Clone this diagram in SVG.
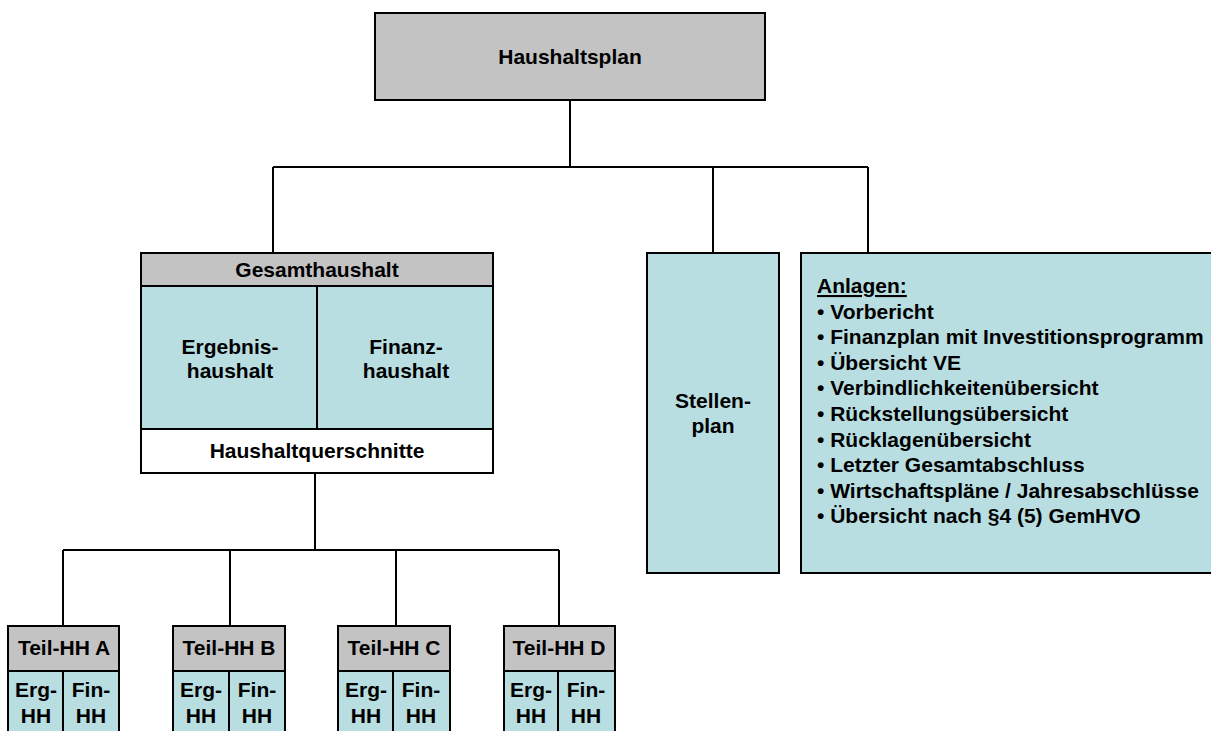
<svg xmlns="http://www.w3.org/2000/svg" width="1211" height="731" viewBox="0 0 1211 731">
<style>
text{font-family:"Liberation Sans",Arial,sans-serif;font-weight:bold;font-size:21px;fill:#000;}
.c{text-anchor:middle;}
.grey{fill:#c3c3c3;stroke:#000;stroke-width:2;}
.blue{fill:#b8dee2;stroke:#000;stroke-width:2;}
.white{fill:#fff;stroke:#000;stroke-width:2;}
.ln{stroke:#000;stroke-width:2;fill:none;}
.sm{font-size:20px;}
</style>
<rect width="1211" height="731" fill="#fff"/>
<g id="connectors">
<path class="ln" d="M570 100V167M273 167H868M273 167V253M713 167V253M868 167V253"/>
<path class="ln" d="M315 473V550M63 550H559M63 550V626M230 550V626M396 550V626M559 550V626"/>
</g>
<g id="haushaltsplan">
<rect class="grey" x="375" y="13" width="390" height="87"/>
<text class="c" x="570" y="64">Haushaltsplan</text>
</g>
<g id="gesamthaushalt">
<rect class="grey" x="141" y="253" width="352" height="33"/>
<rect class="blue" x="141" y="286" width="176" height="143"/>
<rect class="blue" x="317" y="286" width="176" height="143"/>
<rect class="white" x="141" y="429" width="352" height="44"/>
<text class="c" x="317" y="277">Gesamthaushalt</text>
<text class="c" x="230" y="354">Ergebnis-</text>
<text class="c" x="230" y="378">haushalt</text>
<text class="c" x="406" y="354">Finanz-</text>
<text class="c" x="406" y="378">haushalt</text>
<text class="c" x="317" y="458">Haushaltquerschnitte</text>
</g>
<g id="stellenplan">
<rect class="blue" x="647" y="253" width="132" height="320"/>
<text class="c" x="713" y="408">Stellen-</text>
<text class="c" x="713" y="433">plan</text>
</g>
<g id="anlagen">
<rect class="blue" x="801" y="253" width="420" height="320"/>
<text x="817" y="293" text-decoration="underline">Anlagen:</text>
<text x="817" y="318.6">• Vorbericht</text>
<text x="817" y="344.2">• Finanzplan mit Investitionsprogramm</text>
<text x="817" y="369.8">• Übersicht VE</text>
<text x="817" y="395.4">• Verbindlichkeitenübersicht</text>
<text x="817" y="421">• Rückstellungsübersicht</text>
<text x="817" y="446.6">• Rücklagenübersicht</text>
<text x="817" y="472.2">• Letzter Gesamtabschluss</text>
<text x="817" y="497.8">• Wirtschaftspläne / Jahresabschlüsse</text>
<text x="817" y="523.4">• Übersicht nach §4 (5) GemHVO</text>
</g>
<g id="teil-hh-a">
<rect class="grey" x="8" y="626" width="111" height="45"/>
<rect class="blue" x="8" y="671" width="55" height="70"/>
<rect class="blue" x="63" y="671" width="56" height="70"/>
<text class="c" x="64" y="655">Teil-HH A</text>
<text class="c" x="36" y="697">Erg-</text><text class="c" x="36" y="723">HH</text>
<text class="c" x="91" y="697">Fin-</text><text class="c" x="91" y="723">HH</text>
</g>
<g id="teil-hh-b">
<rect class="grey" x="173" y="626" width="112" height="45"/>
<rect class="blue" x="173" y="671" width="56" height="70"/>
<rect class="blue" x="229" y="671" width="56" height="70"/>
<text class="c" x="229" y="655">Teil-HH B</text>
<text class="c" x="201" y="697">Erg-</text><text class="c" x="201" y="723">HH</text>
<text class="c" x="257" y="697">Fin-</text><text class="c" x="257" y="723">HH</text>
</g>
<g id="teil-hh-c">
<rect class="grey" x="338" y="626" width="112" height="45"/>
<rect class="blue" x="338" y="671" width="55" height="70"/>
<rect class="blue" x="393" y="671" width="57" height="70"/>
<text class="c" x="394" y="655">Teil-HH C</text>
<text class="c" x="366" y="697">Erg-</text><text class="c" x="366" y="723">HH</text>
<text class="c" x="421" y="697">Fin-</text><text class="c" x="421" y="723">HH</text>
</g>
<g id="teil-hh-d">
<rect class="grey" x="504" y="626" width="111" height="45"/>
<rect class="blue" x="504" y="671" width="54" height="70"/>
<rect class="blue" x="558" y="671" width="57" height="70"/>
<text class="c" x="559" y="655">Teil-HH D</text>
<text class="c" x="531" y="697">Erg-</text><text class="c" x="531" y="723">HH</text>
<text class="c" x="586" y="697">Fin-</text><text class="c" x="586" y="723">HH</text>
</g>
</svg>
